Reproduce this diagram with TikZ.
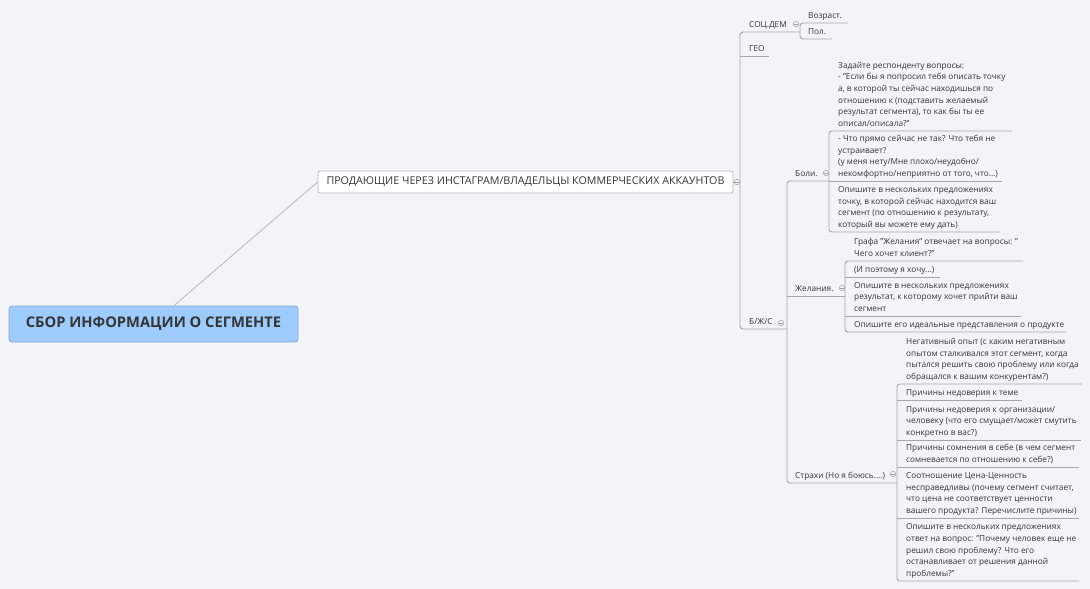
\documentclass[tikz,border=0pt]{standalone}
\usepackage{fontspec}
\setmainfont{Open Sans}
\definecolor{bg}{HTML}{F3F4F8}
\definecolor{txt}{HTML}{353535}
\definecolor{lncol}{HTML}{A6A6A6}
\definecolor{knobcol}{HTML}{A0A0A0}
\definecolor{rootfill}{HTML}{9DCBFB}
\definecolor{rootdraw}{HTML}{86AACF}
\definecolor{boxdraw}{HTML}{B8B8B8}
\tikzset{
  lbl/.style={anchor=south west, inner sep=0pt, align=left, text=txt,
    font=\fontsize{8.28}{11.6}\selectfont, execute at end node=\strut},
  ln/.style={draw=lncol, line width=0.9pt},
  br/.style={ln, rounded corners=3pt},
  knob/.style={circle, draw=knobcol, fill=bg, inner sep=0pt, minimum size=5.5pt, line width=0.5pt,
    path picture={\draw[knobcol, line width=0.5pt] ([xshift=-1.6pt]path picture bounding box.center) -- ([xshift=1.6pt]path picture bounding box.center);}},
  rootnode/.style={draw=rootdraw, fill=rootfill, rounded corners=3pt, line width=0.8pt,
    minimum width=289pt, minimum height=36pt, inner sep=0pt, text=txt,
    font=\fontsize{14.7}{16}\selectfont\bfseries},
  subnode/.style={draw=boxdraw, fill=white, rounded corners=2pt, line width=0.8pt,
    minimum width=415pt, minimum height=22pt, inner sep=0pt, text=txt,
    font=\fontsize{10.7}{12}\selectfont}
}
\begin{document}
\begin{tikzpicture}[x=1pt,y=-1pt]
\useasboundingbox (0,0) rectangle (1090,589);
\fill[bg] (0,0) rectangle (1090,589);

% root and first topic
\node[rootnode] (root) at (153.5,324) {СБОР ИНФОРМАЦИИ О СЕГМЕНТЕ};
\node[subnode] (sec) at (525.5,182) {ПРОДАЮЩИЕ ЧЕРЕЗ ИНСТАГРАМ/ВЛАДЕЛЬЦЫ КОММЕРЧЕСКИХ АККАУНТОВ};
\draw[draw=lncol!85, line width=0.7pt] ([xshift=20.5pt]root.north) -- (sec.west);

% coordinates of brackets
\coordinate (m0) at (740,182);
\coordinate (mTop) at (740,32);
\coordinate (mBot) at (740,329);
\coordinate (sTop) at (800,23);
\coordinate (sBot) at (800,39);
\coordinate (sMid) at (800,32);
\coordinate (jTop) at (787,181);
\coordinate (jBot) at (787,483);
\coordinate (jMid) at (787,329);
\coordinate (bTop) at (829,131);
\coordinate (bBot) at (829,232);
\coordinate (bMid) at (829,181);
\coordinate (zTop) at (845,261);
\coordinate (zBot) at (845,332);
\coordinate (zMid) at (845,296);
\coordinate (xTop) at (897,384);
\coordinate (xBot) at (897,581);
\coordinate (xMid) at (897,483);

\draw[ln] (sec.east) -- (m0);

% main bracket
\draw[br] (sMid) -- (mTop) -- (mBot) -- (jMid);
\draw[ln] (740,56) coordinate (geoA) -- (769,56) coordinate (geoB);

% SOC.DEM bracket
\draw[br] (848,23) coordinate (vozB) -- (sTop) -- (sBot) -- (832,39) coordinate (polB);

% B/Zh/S bracket
\draw[br] (bMid) -- (jTop) -- (jBot) -- (xMid);
\draw[ln] (787,296) coordinate (zhA) -- (zMid);

% Boli bracket
\draw[br] (1012,131) coordinate (b1B) -- (bTop) -- (bBot) -- (1000,232) coordinate (b3B);
\draw[ln] (bMid) -- (1002,181) coordinate (b2B);

% Zhelaniya bracket
\draw[br] (1023,261) coordinate (z1B) -- (zTop) -- (zBot) -- (1066,332) coordinate (z4B);
\draw[ln] (845,277) coordinate (z2A) -- (940,277) coordinate (z2B);
\draw[ln] (845,316) coordinate (z3A) -- (1021,316) coordinate (z3B);

% Strahi bracket
\draw[br] (1082,384) coordinate (s1B) -- (xTop) -- (xBot) -- (1079,581) coordinate (s6B);
\draw[ln] (897,400) coordinate (s2A) -- (1022,400) coordinate (s2B);
\draw[ln] (897,440) coordinate (s3A) -- (1081,440) coordinate (s3B);
\draw[ln] (897,467) coordinate (s4A) -- (1079,467) coordinate (s4B);
\draw[ln] (897,518) coordinate (s5A) -- (1079,518) coordinate (s5B);

% knobs
\node[knob] (k0) at (737,182) {};
\node[knob] (k1) at (796,24) {};
\node[knob] (k2) at (781,323) {};
\node[knob] (k3) at (826,173) {};
\node[knob] (k4) at (842,288) {};
\node[knob] (k5) at (893,474) {};

% labels
\node[lbl] (soc) at (749,31) {СОЦ.ДЕМ};
\node[lbl] (geo) at (749,55) {ГЕО};
\node[lbl] (bjs) at (749,328) {Б/Ж/С};
\node[lbl] (voz) at (808,22) {Возраст.};
\node[lbl] (pol) at (808,38) {Пол.};
\node[lbl] (boli) at (795,180) {Боли.};
\node[lbl] (zhel) at (795,295) {Желания.};
\node[lbl] (strah) at (795,482) {Страхи (Но я боюсь....)};

\node[lbl] (b1) at (838,130) {Задайте респонденту вопросы:\\- "Если бы я попросил тебя описать точку\\а, в которой ты сейчас находишься по\\отношению к (подставить желаемый\\результат сегмента), то как бы ты ее\\описал/описала?"};
\node[lbl] (b2) at (838,180) {- Что прямо сейчас не так? Что тебя не\\устраивает?\\(у меня нету/Мне плохо/неудобно/\\некомфортно/неприятно от того, что...)};
\node[lbl] (b3) at (838,231) {Опишите в нескольких предложениях\\точку, в которой сейчас находится ваш\\сегмент (по отношению к результату,\\который вы можете ему дать)};

\node[lbl] (z1) at (854,260) {Графа "Желания" отвечает на вопросы: "\\Чего хочет клиент?"};
\node[lbl] (z2) at (854,276) {(И поэтому я хочу...)};
\node[lbl] (z3) at (854,315) {Опишите в нескольких предложениях\\результат, к которому хочет прийти ваш\\сегмент};
\node[lbl] (z4) at (854,331) {Опишите его идеальные представления о продукте};

\node[lbl] (s1) at (906,383) {Негативный опыт (с каким негативным\\опытом сталкивался этот сегмент, когда\\пытался решить свою проблему или когда\\обращался к вашим конкурентам?)};
\node[lbl] (s2) at (906,399) {Причины недоверия к теме};
\node[lbl] (s3) at (906,439) {Причины недоверия к организации/\\человеку (что его смущает/может смутить\\конкретно в вас?)};
\node[lbl] (s4) at (906,466) {Причины сомнения в себе (в чем сегмент\\сомневается по отношению к себе?)};
\node[lbl] (s5) at (906,517) {Соотношение Цена-Ценность\\несправедливы (почему сегмент считает,\\что цена не соответствует ценности\\вашего продукта? Перечислите причины)};
\node[lbl] (s6) at (906,580) {Опишите в нескольких предложениях\\ответ на вопрос: "Почему человек еще не\\решил свою проблему? Что его\\останавливает от решения данной\\проблемы?"};
\end{tikzpicture}
\end{document}
